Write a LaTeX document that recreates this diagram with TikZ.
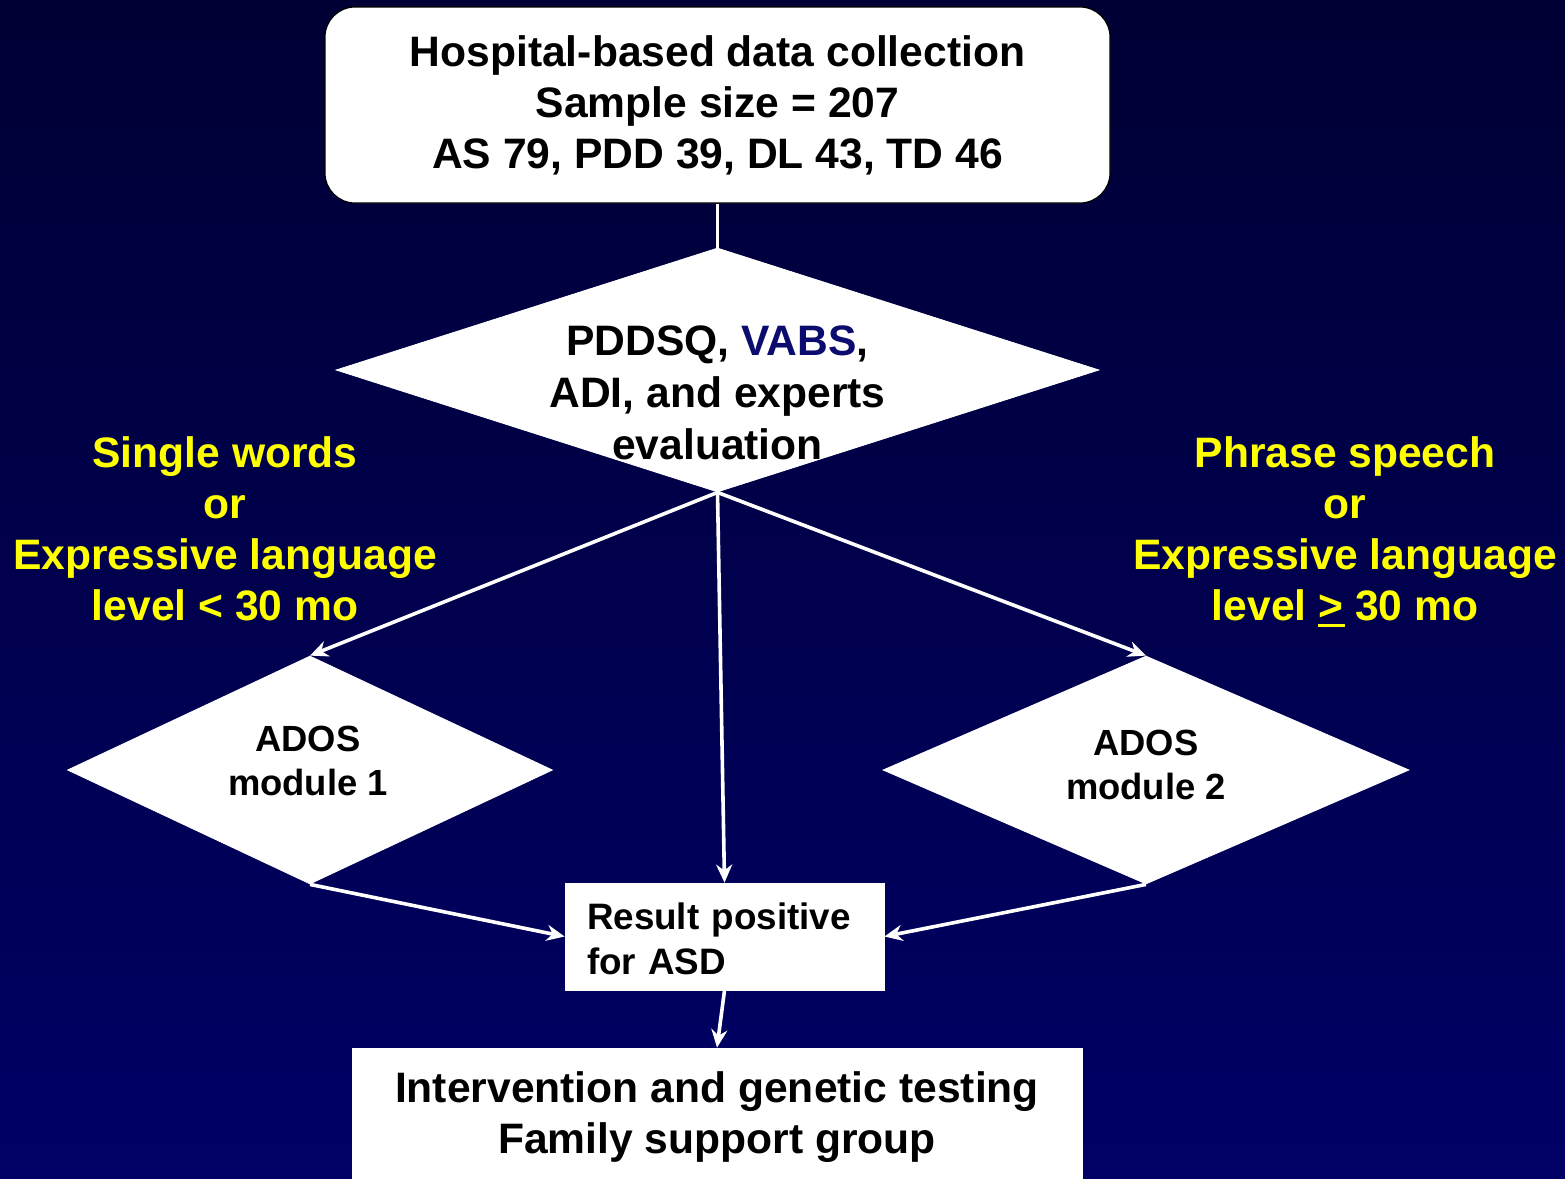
\documentclass[tikz,border=0pt]{standalone}
\usepackage{fontspec}
\setmainfont{Liberation Sans}
\usetikzlibrary{shapes.geometric,arrows.meta}

\definecolor{bgtop}{RGB}{0,0,52}
\definecolor{bgbottom}{RGB}{0,0,102}
\definecolor{vabsblue}{RGB}{12,12,110}
\definecolor{hiyellow}{RGB}{255,255,0}

\newcommand{\thickunder}[1]{\rlap{\rule[-3.2pt]{0.62em}{1.6pt}}#1}

\tikzset{
  whitebox/.style={draw=white,fill=white,inner sep=0pt,font=\fontsize{21.3}{25.5}\selectfont\bfseries,align=center},
  choice/.style={diamond,draw=white,fill=white,inner sep=0pt},
  branchtext/.style={text=hiyellow,font=\fontsize{21.3}{25.5}\selectfont\bfseries,align=center},
  flow/.style={draw=white,line width=1.8pt,-{Stealth[length=9pt,width=8pt]}},
}

\begin{document}
\begin{tikzpicture}[x=0.5pt,y=-0.5pt]
    \useasboundingbox (0,0) rectangle (1565,1179);
    \shade[top color=bgtop,bottom color=bgbottom] (0,0) rectangle (1565,1179);

    \node[whitebox,draw=black,line width=0.6pt,rounded corners=15pt,minimum width=392.5pt,minimum height=98pt] (collect) at (717.5,105)
        {Hospital-based data collection\\Sample size = 207\\AS 79, PDD 39, DL 43, TD 46};

    \node[choice,minimum width=381.5pt,minimum height=122pt] (eval) at (717.5,370) {};
    \node[font=\fontsize{21.3}{26}\selectfont\bfseries,align=center] (evaltext) at (717.5,393)
        {PDDSQ, \textcolor{vabsblue}{VABS},\\ADI, and experts\\evaluation};

    \node[branchtext] (single) at (225,529) {Single words\\or\\Expressive language\\level < 30 mo};
    \node[branchtext] (phrase) at (1345,532) {Phrase speech\\or\\Expressive language\\level \thickunder{>} 30 mo};

    \node[choice,minimum width=242.5pt,minimum height=114pt] (ados1) at (310,770) {};
    \node[font=\fontsize{18.2}{22}\selectfont\bfseries,align=center] (ados1text) at (308,761) {ADOS\\module 1};
    \node[choice,minimum width=263pt,minimum height=114pt] (ados2) at (1146,770) {};
    \node[font=\fontsize{18.2}{22}\selectfont\bfseries,align=center] (ados2text) at (1146,765) {ADOS\\module 2};

    \node[whitebox,font=\fontsize{18.4}{22.5}\selectfont\bfseries,align=left,text width=137.5pt,inner xsep=11pt,
          minimum height=53.5pt] (result) at (724.5,936.5) {\strut Result positive\\for ASD};

    \node[whitebox,minimum width=365pt,minimum height=65.5pt,text depth=3pt] (plan) at (717,1113.5)
        {\strut Intervention and genetic testing\\Family support group};

    \draw[white,line width=1.8pt] (collect.south)--(eval.north);
    \draw[flow] (eval.south)--(ados1.north);
    \draw[flow] (eval.south)--(ados2.north);
    \draw[flow] (eval.south)--(result.north);
    \draw[flow] (ados1.south)--(result.west);
    \draw[flow] (ados2.south)--(result.east);
    \draw[flow] (result.south)--(plan.north);
\end{tikzpicture}
\end{document}
